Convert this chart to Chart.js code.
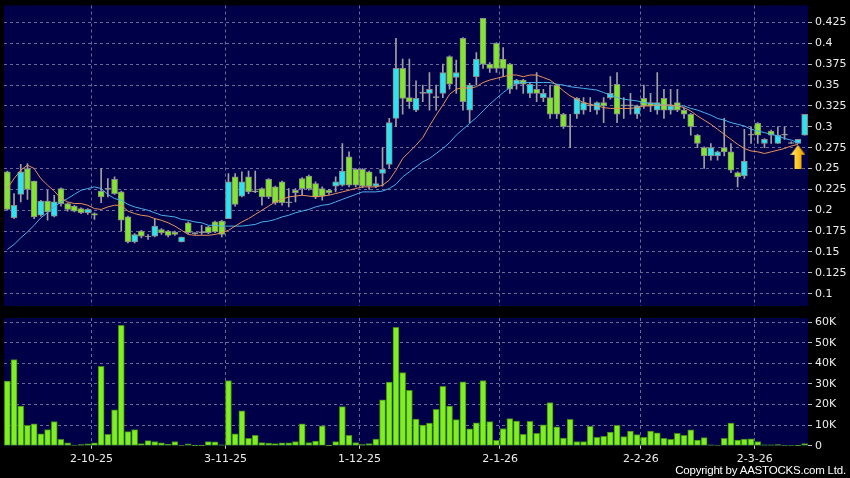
<!DOCTYPE html>
<html>
<head>
<meta charset="utf-8">
<script src="https://cdn.jsdelivr.net/npm/chart.js@4.4.1/dist/chart.umd.min.js"></script>
<style>
  html, body { margin: 0; padding: 0; background: #000; }
  #wrap { position: relative; width: 850px; height: 478px; overflow: hidden; background: #000; }
  #price { position: absolute; left: 0; top: 0; }
  #vol { position: absolute; left: 0; top: 312px; }
  #copy { position: absolute; right: 4px; top: 464px; color: #fff; font: 11.5px "Liberation Sans", Arial, sans-serif; letter-spacing: -0.2px; }
</style>
</head>
<body>
<div id="wrap">
  <canvas id="price" width="850" height="312"></canvas>
  <canvas id="vol" width="850" height="166"></canvas>
  <div id="copy">Copyright by AASTOCKS.com Ltd.</div>
</div>
<script>
// x axis: one slot per trading day, labels only on the month ticks
const tickIdx = [13, 33, 53, 74, 95, 112];
const tickText = ['2-10-25', '3-11-25', '1-12-25', '2-1-26', '2-2-26', '2-3-26'];
const priceTicks = [0.1, 0.125, 0.15, 0.175, 0.2, 0.225, 0.25, 0.275, 0.3, 0.325, 0.35, 0.375, 0.4, 0.425];
const volTicks = [0, 10, 20, 30, 40, 50, 60];

const open = [
  0.246, 0.191, 0.219, 0.250, 0.235, 0.194, 0.211, 0.193, 0.226, 0.208,
  0.205, 0.202, 0.197, 0.196, 0.223, 0.225, 0.237, 0.222, 0.192, 0.162,
  0.175, 0.168, 0.169, 0.177, 0.175, 0.174, 0.162, 0.185, 0.172, 0.173,
  0.180, 0.186, 0.187, 0.190, 0.240, 0.217, 0.240, 0.222, 0.226, 0.237,
  0.228, 0.234, 0.209, 0.224, 0.238, 0.241, 0.232, 0.226, 0.224, 0.229,
  0.230, 0.264, 0.249, 0.249, 0.246, 0.229, 0.244, 0.255, 0.310, 0.370,
  0.335, 0.320, 0.340, 0.340, 0.335, 0.340, 0.384, 0.359, 0.406, 0.320,
  0.360, 0.430, 0.375, 0.400, 0.381, 0.375, 0.351, 0.356, 0.340, 0.345,
  0.335, 0.335, 0.350, 0.315, 0.300, 0.315, 0.320, 0.325, 0.320, 0.329,
  0.335, 0.351, 0.325, 0.325, 0.315, 0.334, 0.329, 0.320, 0.334, 0.320,
  0.329, 0.320, 0.315, 0.290, 0.275, 0.265, 0.265, 0.275, 0.270, 0.245,
  0.241, 0.290, 0.304, 0.280, 0.295, 0.280, 0.290, 0.280, 0.280, 0.290
];
const high = [
  0.247, 0.220, 0.255, 0.256, 0.235, 0.212, 0.224, 0.218, 0.227, 0.209,
  0.206, 0.203, 0.202, 0.197, 0.250, 0.238, 0.240, 0.223, 0.193, 0.172,
  0.176, 0.171, 0.190, 0.178, 0.176, 0.175, 0.168, 0.186, 0.173, 0.182,
  0.181, 0.187, 0.188, 0.244, 0.244, 0.246, 0.247, 0.247, 0.227, 0.238,
  0.229, 0.235, 0.226, 0.226, 0.239, 0.242, 0.234, 0.228, 0.225, 0.240,
  0.280, 0.270, 0.250, 0.250, 0.247, 0.240, 0.275, 0.310, 0.406, 0.381,
  0.381, 0.355, 0.350, 0.365, 0.350, 0.375, 0.385, 0.380, 0.407, 0.352,
  0.389, 0.430, 0.377, 0.401, 0.395, 0.376, 0.357, 0.357, 0.352, 0.365,
  0.345, 0.350, 0.351, 0.316, 0.315, 0.335, 0.335, 0.335, 0.330, 0.335,
  0.360, 0.365, 0.335, 0.340, 0.326, 0.350, 0.340, 0.365, 0.345, 0.345,
  0.345, 0.322, 0.316, 0.291, 0.276, 0.280, 0.271, 0.310, 0.280, 0.246,
  0.297, 0.300, 0.305, 0.286, 0.296, 0.300, 0.300, 0.282, 0.285, 0.315
];
const low = [
  0.200, 0.190, 0.210, 0.213, 0.190, 0.193, 0.188, 0.192, 0.205, 0.199,
  0.198, 0.196, 0.195, 0.189, 0.209, 0.216, 0.219, 0.175, 0.161, 0.161,
  0.167, 0.165, 0.168, 0.171, 0.168, 0.170, 0.162, 0.172, 0.171, 0.171,
  0.172, 0.173, 0.168, 0.190, 0.205, 0.216, 0.220, 0.221, 0.206, 0.214,
  0.207, 0.206, 0.204, 0.210, 0.218, 0.224, 0.214, 0.212, 0.219, 0.222,
  0.229, 0.228, 0.228, 0.227, 0.225, 0.227, 0.229, 0.250, 0.300, 0.315,
  0.322, 0.318, 0.330, 0.320, 0.320, 0.335, 0.345, 0.340, 0.320, 0.305,
  0.350, 0.370, 0.365, 0.365, 0.360, 0.340, 0.345, 0.340, 0.335, 0.330,
  0.330, 0.310, 0.310, 0.298, 0.275, 0.310, 0.315, 0.318, 0.315, 0.305,
  0.333, 0.305, 0.310, 0.315, 0.310, 0.322, 0.318, 0.315, 0.310, 0.315,
  0.318, 0.310, 0.290, 0.275, 0.250, 0.260, 0.260, 0.265, 0.245, 0.228,
  0.238, 0.280, 0.280, 0.275, 0.280, 0.280, 0.285, 0.280, 0.280, 0.290
];
const close = [
  0.201, 0.206, 0.246, 0.225, 0.192, 0.211, 0.198, 0.210, 0.208, 0.201,
  0.199, 0.197, 0.201, 0.194, 0.216, 0.225, 0.220, 0.188, 0.162, 0.171,
  0.169, 0.168, 0.181, 0.173, 0.170, 0.171, 0.168, 0.173, 0.172, 0.173,
  0.173, 0.174, 0.171, 0.234, 0.207, 0.234, 0.222, 0.222, 0.216, 0.216,
  0.209, 0.209, 0.209, 0.221, 0.226, 0.226, 0.216, 0.217, 0.221, 0.234,
  0.247, 0.230, 0.230, 0.229, 0.229, 0.232, 0.249, 0.305, 0.370, 0.334,
  0.330, 0.334, 0.340, 0.345, 0.335, 0.365, 0.351, 0.365, 0.330, 0.350,
  0.381, 0.375, 0.370, 0.370, 0.370, 0.345, 0.356, 0.351, 0.351, 0.340,
  0.340, 0.315, 0.315, 0.300, 0.300, 0.334, 0.329, 0.325, 0.329, 0.325,
  0.340, 0.315, 0.325, 0.325, 0.325, 0.325, 0.325, 0.329, 0.320, 0.325,
  0.320, 0.315, 0.300, 0.280, 0.265, 0.275, 0.270, 0.270, 0.248, 0.240,
  0.259, 0.290, 0.290, 0.285, 0.290, 0.290, 0.290, 0.280, 0.285, 0.315
];
// moving averages (orange = short, blue = long)
const maShort = [
  0.226, 0.238, 0.248, 0.254, 0.250, 0.238, 0.230, 0.223, 0.214, 0.210,
  0.208, 0.208, 0.206, 0.202, 0.201, 0.204, 0.206, 0.206, 0.199, 0.196,
  0.194, 0.193, 0.190, 0.188, 0.185, 0.181, 0.176, 0.171, 0.170, 0.170,
  0.170, 0.171, 0.173, 0.176, 0.181, 0.186, 0.190, 0.195, 0.200, 0.205,
  0.210, 0.213, 0.216, 0.217, 0.218, 0.217, 0.216, 0.217, 0.218, 0.220,
  0.222, 0.224, 0.226, 0.228, 0.228, 0.228, 0.230, 0.236, 0.248, 0.262,
  0.270, 0.278, 0.287, 0.301, 0.314, 0.326, 0.339, 0.345, 0.347, 0.346,
  0.348, 0.353, 0.356, 0.358, 0.360, 0.362, 0.362, 0.360, 0.362, 0.362,
  0.359, 0.356, 0.350, 0.343, 0.337, 0.333, 0.329, 0.327, 0.325, 0.323,
  0.322, 0.322, 0.322, 0.322, 0.323, 0.325, 0.325, 0.326, 0.326, 0.326,
  0.325, 0.323, 0.319, 0.313, 0.308, 0.303, 0.297, 0.291, 0.285, 0.279,
  0.274, 0.271, 0.270, 0.268, 0.270, 0.272, 0.274, 0.277, 0.279, null
];
const maLong = [
  0.153, 0.159, 0.167, 0.174, 0.182, 0.191, 0.197, 0.204, 0.210, 0.214,
  0.219, 0.224, 0.226, 0.228, 0.226, 0.219, 0.214, 0.212, 0.207, 0.204,
  0.202, 0.200, 0.197, 0.194, 0.193, 0.192, 0.189, 0.188, 0.186, 0.185,
  0.182, 0.182, 0.181, 0.181, 0.181, 0.181, 0.182, 0.183, 0.186, 0.187,
  0.189, 0.192, 0.194, 0.197, 0.199, 0.201, 0.204, 0.206, 0.207, 0.210,
  0.213, 0.216, 0.219, 0.222, 0.222, 0.222, 0.223, 0.226, 0.231, 0.240,
  0.246, 0.252, 0.258, 0.262, 0.268, 0.274, 0.281, 0.290, 0.297, 0.304,
  0.311, 0.319, 0.327, 0.334, 0.341, 0.347, 0.352, 0.353, 0.353, 0.353,
  0.353, 0.353, 0.351, 0.350, 0.348, 0.347, 0.346, 0.345, 0.344, 0.341,
  0.338, 0.335, 0.333, 0.332, 0.331, 0.329, 0.328, 0.327, 0.326, 0.326,
  0.325, 0.325, 0.322, 0.320, 0.317, 0.314, 0.310, 0.308, 0.305, 0.303,
  0.301, 0.297, 0.295, 0.293, 0.291, 0.289, 0.286, 0.284, 0.281, null
];
// volume in thousands of shares
const volumeK = [
  31.4, 41.8, 19.3, 9.9, 10.7, 5.8, 7.9, 11.7, 3.1, 1.5,
  0.3, 0.6, 1.0, 1.5, 38.5, 5.6, 17.5, 58.5, 6.9, 7.9,
  1.1, 2.5, 2.1, 1.5, 0.8, 2.1, 0.2, 1.0, 0.1, 0.1,
  2.1, 1.9, 0.5, 31.7, 5.8, 17.0, 3.6, 5.1, 1.6, 1.3,
  1.1, 1.5, 1.5, 2.1, 10.7, 1.6, 2.3, 9.7, 0.1, 2.1,
  19.0, 5.1, 1.6, 0.6, 1.1, 3.3, 22.3, 30.9, 57.5, 35.5,
  26.9, 13.0, 10.0, 11.0, 17.7, 28.9, 19.3, 12.7, 31.0, 8.2,
  11.2, 31.7, 11.7, 2.6, 8.4, 13.2, 12.0, 5.6, 11.9, 6.1,
  10.2, 21.0, 9.2, 3.8, 12.9, 2.1, 2.1, 9.4, 4.1, 4.6,
  6.6, 9.9, 4.5, 7.1, 5.4, 4.1, 7.1, 6.3, 3.6, 3.1,
  6.1, 5.1, 7.7, 2.8, 4.0, 0.5, 0.3, 3.6, 11.0, 2.8,
  3.3, 3.4, 2.1, 0.5, 0.5, 0.6, 0.2, 0.2, 0.1, 1.1
];
const markerIdx = 118;
const markerPrice = 0.264;

const labels = close.map((_, i) => i);
const UP = '#2ae4f0';
const DOWN = '#82e62a';
const FLAT = '#a8a8a8';
const GRID = '#6a6a9a';
const TXT = '#ececec';
const FONT = { family: 'DejaVu Sans', size: 11 };
const YFONT = { family: 'DejaVu Sans', size: 11, lineHeight: 1 };

const plotBg = {
  id: 'plotBg',
  beforeDraw(chart) {
    const { ctx, chartArea: a } = chart;
    ctx.save();
    ctx.fillStyle = '#000048';
    ctx.fillRect(a.left, a.top, a.right - a.left, a.bottom - a.top);
    ctx.restore();
  }
};

function xScale(showLabels) {
  return {
    type: 'category',
    offset: true,
    grid: {
      offset: true,
      color: c => tickIdx.includes(c.index) ? GRID : 'transparent',
      drawTicks: showLabels,
      tickLength: 3,
      tickColor: c => tickIdx.includes(c.index) ? '#cccccc' : 'transparent'
    },
    border: { display: false, dash: [3, 3] },
    ticks: {
      display: showLabels,
      autoSkip: false,
      maxRotation: 0,
      minRotation: 0,
      color: TXT,
      font: FONT,
      padding: 4,
      labelOffset: -3,
      callback: (v, i) => {
        const k = tickIdx.indexOf(i);
        return k < 0 ? '' : tickText[k];
      }
    }
  };
}

function yScale(min, max, ticks, fmt) {
  return {
    position: 'right',
    min: min,
    max: max,
    afterBuildTicks: s => { s.ticks = ticks.map(v => ({ value: v })); },
    afterFit: s => { s.width = 42; },
    grid: {
      color: c => c.tick && c.tick.value === 0 ? 'transparent' : GRID,
      tickLength: 7,
      tickColor: '#bbbbbb',
      tickBorderDash: [4, 10]
    },
    border: { display: false, dash: [3, 3] },
    ticks: { color: TXT, font: YFONT, padding: 0, callback: fmt }
  };
}

// up arrow marker
const arrow = document.createElement('canvas');
arrow.width = 15;
arrow.height = 24;
const g = arrow.getContext('2d');
const grad = g.createLinearGradient(0, 0, 15, 0);
grad.addColorStop(0, '#ffe98a');
grad.addColorStop(0.5, '#ffc61c');
grad.addColorStop(1, '#cf8a00');
g.fillStyle = grad;
g.beginPath();
g.moveTo(7.5, 0);
g.lineTo(15, 10);
g.lineTo(11, 10);
g.lineTo(11, 24);
g.lineTo(4, 24);
g.lineTo(4, 10);
g.lineTo(0, 10);
g.closePath();
g.fill();

const bodyColor = close.map((c, i) => c > open[i] ? UP : (c < open[i] ? DOWN : FLAT));

new Chart(document.getElementById('price'), {
  data: {
    labels: labels,
    datasets: [
      {
        type: 'line',
        data: labels.map(i => i === markerIdx ? markerPrice : null),
        showLine: false,
        pointStyle: arrow,
        pointRadius: 10,
        order: 0
      },
      {
        type: 'line',
        data: maShort,
        borderColor: '#e8925a',
        borderWidth: 1,
        pointRadius: 0,
        order: 1
      },
      {
        type: 'line',
        data: maLong,
        borderColor: '#4ab0ea',
        borderWidth: 1,
        pointRadius: 0,
        order: 2
      },
      {
        type: 'bar',
        data: open.map((o, i) => [Math.min(o, close[i]), Math.max(o, close[i])]),
        backgroundColor: bodyColor,
        borderColor: '#8a8a8a',
        borderWidth: 1,
        borderSkipped: false,
        barThickness: 6,
        minBarLength: 1,
        grouped: false,
        order: 3
      },
      {
        type: 'bar',
        data: low.map((l, i) => [l, high[i]]),
        backgroundColor: '#a0a0a0',
        borderWidth: 0,
        barThickness: 1,
        grouped: false,
        order: 4
      }
    ]
  },
  options: {
    responsive: false,
    animation: false,
    events: [],
    layout: { autoPadding: false, padding: { top: 5, left: 4, right: 0, bottom: 6 } },
    plugins: { legend: { display: false }, tooltip: { enabled: false } },
    scales: {
      x: xScale(false),
      y: yScale(0.0853, 0.4453, priceTicks, v => String(+v.toFixed(3)))
    }
  },
  plugins: [plotBg]
});

new Chart(document.getElementById('vol'), {
  data: {
    labels: labels,
    datasets: [
      {
        type: 'bar',
        data: volumeK,
        backgroundColor: '#80ee22',
        borderColor: '#3f8a16',
        borderWidth: 1,
        borderSkipped: false,
        barThickness: 6,
        grouped: false
      }
    ]
  },
  options: {
    responsive: false,
    animation: false,
    events: [],
    layout: { autoPadding: false, padding: { top: 6, left: 4, right: 0, bottom: 8 } },
    plugins: { legend: { display: false }, tooltip: { enabled: false } },
    scales: {
      x: xScale(true),
      y: yScale(0, 62, volTicks, v => v === 0 ? '0' : v + 'K')
    }
  },
  plugins: [plotBg]
});
</script>
</body>
</html>
